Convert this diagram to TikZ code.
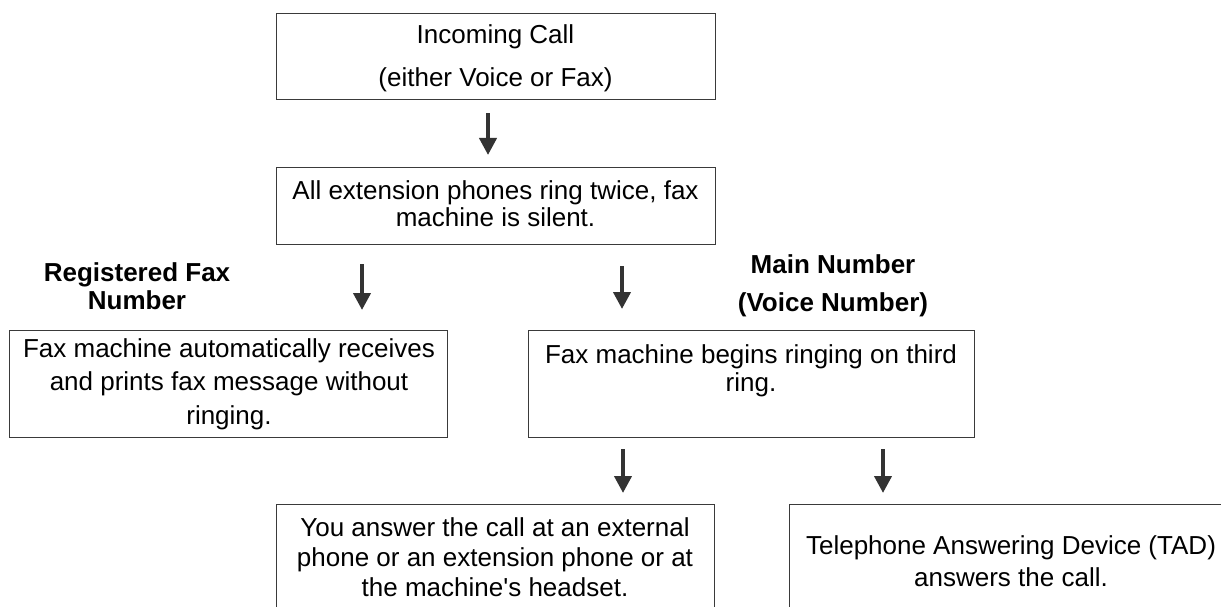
\documentclass[tikz,border=0pt]{standalone}
\usepackage{fontspec}
\setmainfont{Liberation Sans}[Ligatures=TeXOff]
\usetikzlibrary{arrows.meta}
\definecolor{ink}{HTML}{333333}
\definecolor{edge}{HTML}{3A3A3A}
\begin{document}
\begin{tikzpicture}[x=1pt,y=-1pt,
  box/.style={draw=edge, line width=1.4pt, rectangle, inner sep=0pt, anchor=north west},
  txt/.style={align=center, inner sep=0pt, text=black, font=\fontsize{26}{#1}\selectfont},
  lbl/.style={align=center, inner sep=0pt, text=black, font=\fontsize{26}{#1}\selectfont\bfseries},
  arr/.style={draw=ink, line width=4pt, -{Triangle[width=17pt,length=17pt]}}]
\useasboundingbox (0,0) rectangle (1221,607);
% boxes
\node[box, minimum width=439pt, minimum height=86pt] (top) at (276,13) {};
\node[box, minimum width=439pt, minimum height=77pt] (b2) at (276,167) {};
\node[box, minimum width=438pt, minimum height=107pt] (lbox) at (9,330) {};
\node[box, minimum width=446pt, minimum height=107pt] (mbox) at (528,330) {};
\node[box, minimum width=438pt, minimum height=140pt] (blbox) at (276,504) {};
\node[box, minimum width=460pt, minimum height=140pt] (brbox) at (789,504) {};
% texts
\node[txt=43] (ttop) at (495.5,58) {Incoming Call\\(either Voice or Fax)};
\node[txt=27] (tb2) at (495.5,203.5) {All extension phones ring twice, fax\\machine is silent.};
\node[txt=33.5] (tl) at (229,384) {Fax machine automatically receives\\and prints fax message without\\ringing.};
\node[txt=28] (tm) at (751,371) {Fax machine begins ringing on third\\ring.};
\node[txt=30] (tbl) at (495,557) {You answer the call at an external\\phone or an extension phone or at\\the machine's headset.};
\node[txt=32] (tbr) at (1011,561) {Telephone Answering Device (TAD)\\answers the call.};
\node[lbl=28] (lreg) at (137,286) {Registered Fax\\Number};
\node[lbl=38] (lmain) at (833,286) {Main Number\\(Voice Number)};
% arrow columns
\coordinate (c1) at (488,0);
\coordinate (c2) at (362,0);
\coordinate (c3) at (622,0);
\coordinate (c4) at (623,0);
\coordinate (c5) at (883,0);
\draw[arr, shorten <=13pt, shorten >=12pt] (top.south -| c1) -- (b2.north -| c1);
\draw[arr, shorten <=19pt, shorten >=20pt] (b2.south -| c2) -- (lbox.north -| c2);
\draw[arr, shorten <=21pt, shorten >=21pt] (b2.south -| c3) -- (mbox.north -| c3);
\draw[arr, shorten <=11pt, shorten >=11pt] (mbox.south -| c4) -- (blbox.north -| c4);
\draw[arr, shorten <=11pt, shorten >=11pt] (mbox.south -| c5) -- (brbox.north -| c5);
\end{tikzpicture}
\end{document}
